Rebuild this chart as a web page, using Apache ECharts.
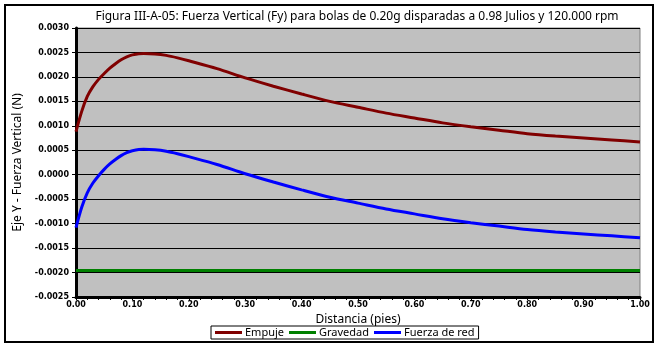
<!DOCTYPE html>
<html>
<head>
<meta charset="utf-8">
<script src="https://cdn.jsdelivr.net/npm/echarts@6/dist/echarts.min.js"></script>
<style>
  html, body { margin: 0; padding: 0; background: #ffffff; }
  #chart { width: 658px; height: 347px; }
</style>
</head>
<body>
<div id="chart"></div>
<script>
// Distance along the barrel (feet)
const distancia = [0, 0.01, 0.02, 0.03, 0.04, 0.05, 0.06, 0.07, 0.08, 0.09, 0.10,
  0.12, 0.14, 0.16, 0.18, 0.20, 0.25, 0.30, 0.35, 0.40, 0.45,
  0.50, 0.55, 0.60, 0.65, 0.70, 0.75, 0.80, 0.85, 0.90, 0.95, 1.00];

// Lift force (N)
const empuje = [0.00088, 0.00129, 0.00160, 0.00180, 0.00195, 0.00207, 0.00218,
  0.00227, 0.00235, 0.00241, 0.00245, 0.00248, 0.00247, 0.00244, 0.00239, 0.00233,
  0.00217, 0.00198, 0.00181, 0.00165, 0.00150, 0.00138, 0.00126, 0.00116, 0.00106,
  0.00098, 0.00091, 0.00084, 0.00079, 0.00075, 0.00071, 0.00067];

// Net vertical force (N)
const fuerzaDeRed = [-0.00108, -0.00067, -0.00037, -0.00017, -0.00002, 0.00011,
  0.00022, 0.00031, 0.00039, 0.00045, 0.00049, 0.00052, 0.00051, 0.00048, 0.00043,
  0.00037, 0.00021, 0.00002, -0.00015, -0.00031, -0.00046, -0.00058, -0.00070,
  -0.00080, -0.00090, -0.00098, -0.00105, -0.00112, -0.00117, -0.00121, -0.00125,
  -0.00129];

// Gravity (N), constant over the run
const distanciaGravedad = [0, 1.00];
const gravedad = [-0.00196, -0.00196];

const pairs = (xs, ys) => xs.map((x, i) => [x, ys[i]]);

const chart = echarts.init(document.getElementById('chart'), null, { renderer: 'canvas' });

const textFont = 'Noto Sans';

chart.setOption({
  animation: false,
  backgroundColor: '#ffffff',
  title: {
    text: 'Figura III-A-05: Fuerza Vertical (Fy) para bolas de 0.20g disparadas a 0.98 Julios y 120.000 rpm',
    left: 352, top: 6, textAlign: 'center',
    textStyle: { fontFamily: textFont, fontSize: 12, fontWeight: 'normal', color: '#000' }
  },
  grid: {
    left: 76, right: 18, top: 28, bottom: 50,
    show: true, backgroundColor: '#c0c0c0', borderColor: '#808080', borderWidth: 1
  },
  legend: {
    left: 211, top: 326,
    padding: [1, 4, 1, 4],
    borderColor: '#000', borderWidth: 1, backgroundColor: '#fff',
    itemWidth: 27, itemHeight: 3, itemGap: 5,
    icon: 'rect',
    textStyle: { fontFamily: textFont, fontSize: 11, color: '#000', padding: [0, 0, 0, -2] },
    data: ['Empuje', 'Gravedad', 'Fuerza de red']
  },
  xAxis: {
    type: 'value', min: 0, max: 1, interval: 0.1,
    name: 'Distancia (pies)', nameLocation: 'middle', nameGap: 17,
    nameTextStyle: { fontFamily: textFont, fontSize: 12, color: '#000' },
    axisLine: { show: true, onZero: false, lineStyle: { color: '#000', width: 3 } },
    axisTick: { show: true, length: 3, lineStyle: { color: '#000', width: 1 } },
    minorTick: { show: true, splitNumber: 5, length: 3, lineStyle: { color: '#000', width: 1 } },
    splitLine: { show: false },
    axisLabel: {
      fontFamily: 'DejaVu Sans', fontWeight: 'bold', fontSize: 8, color: '#000', margin: 4,
      formatter: v => v.toFixed(2)
    }
  },
  yAxis: {
    type: 'value', min: -0.0025, max: 0.003, interval: 0.0005,
    name: 'Eje Y - Fuerza Vertical (N)', nameLocation: 'middle', nameGap: 49, nameRotate: 90,
    nameTextStyle: { fontFamily: textFont, fontSize: 12, color: '#000' },
    axisLine: { show: true, onZero: false, lineStyle: { color: '#000', width: 3 } },
    axisTick: { show: true, length: 4, lineStyle: { color: '#000', width: 1 } },
    splitLine: { show: true, lineStyle: { color: '#000', width: 1 } },
    axisLabel: {
      fontFamily: 'DejaVu Sans', fontWeight: 'bold', fontSize: 8, color: '#000', margin: 7,
      formatter: v => (Math.abs(v) < 1e-10 ? 0 : v).toFixed(4)
    }
  },
  series: [
    {
      name: 'Empuje', type: 'line', data: pairs(distancia, empuje),
      smooth: 0.3, showSymbol: false, symbol: 'none',
      lineStyle: { color: '#800000', width: 3 }, itemStyle: { color: '#800000' }, z: 3
    },
    {
      name: 'Gravedad', type: 'line', data: pairs(distanciaGravedad, gravedad),
      showSymbol: false, symbol: 'none',
      lineStyle: { color: '#008000', width: 3 }, itemStyle: { color: '#008000' }, z: 3
    },
    {
      name: 'Fuerza de red', type: 'line', data: pairs(distancia, fuerzaDeRed),
      smooth: 0.3, showSymbol: false, symbol: 'none',
      lineStyle: { color: '#0000ff', width: 3 }, itemStyle: { color: '#0000ff' }, z: 3
    }
  ],
  graphic: [
    {
      type: 'rect', z: 100, silent: true,
      shape: { x: 5, y: 5, width: 648, height: 337 },
      style: { fill: 'none', stroke: '#000', lineWidth: 2 }
    }
  ]
});
</script>
</body>
</html>
